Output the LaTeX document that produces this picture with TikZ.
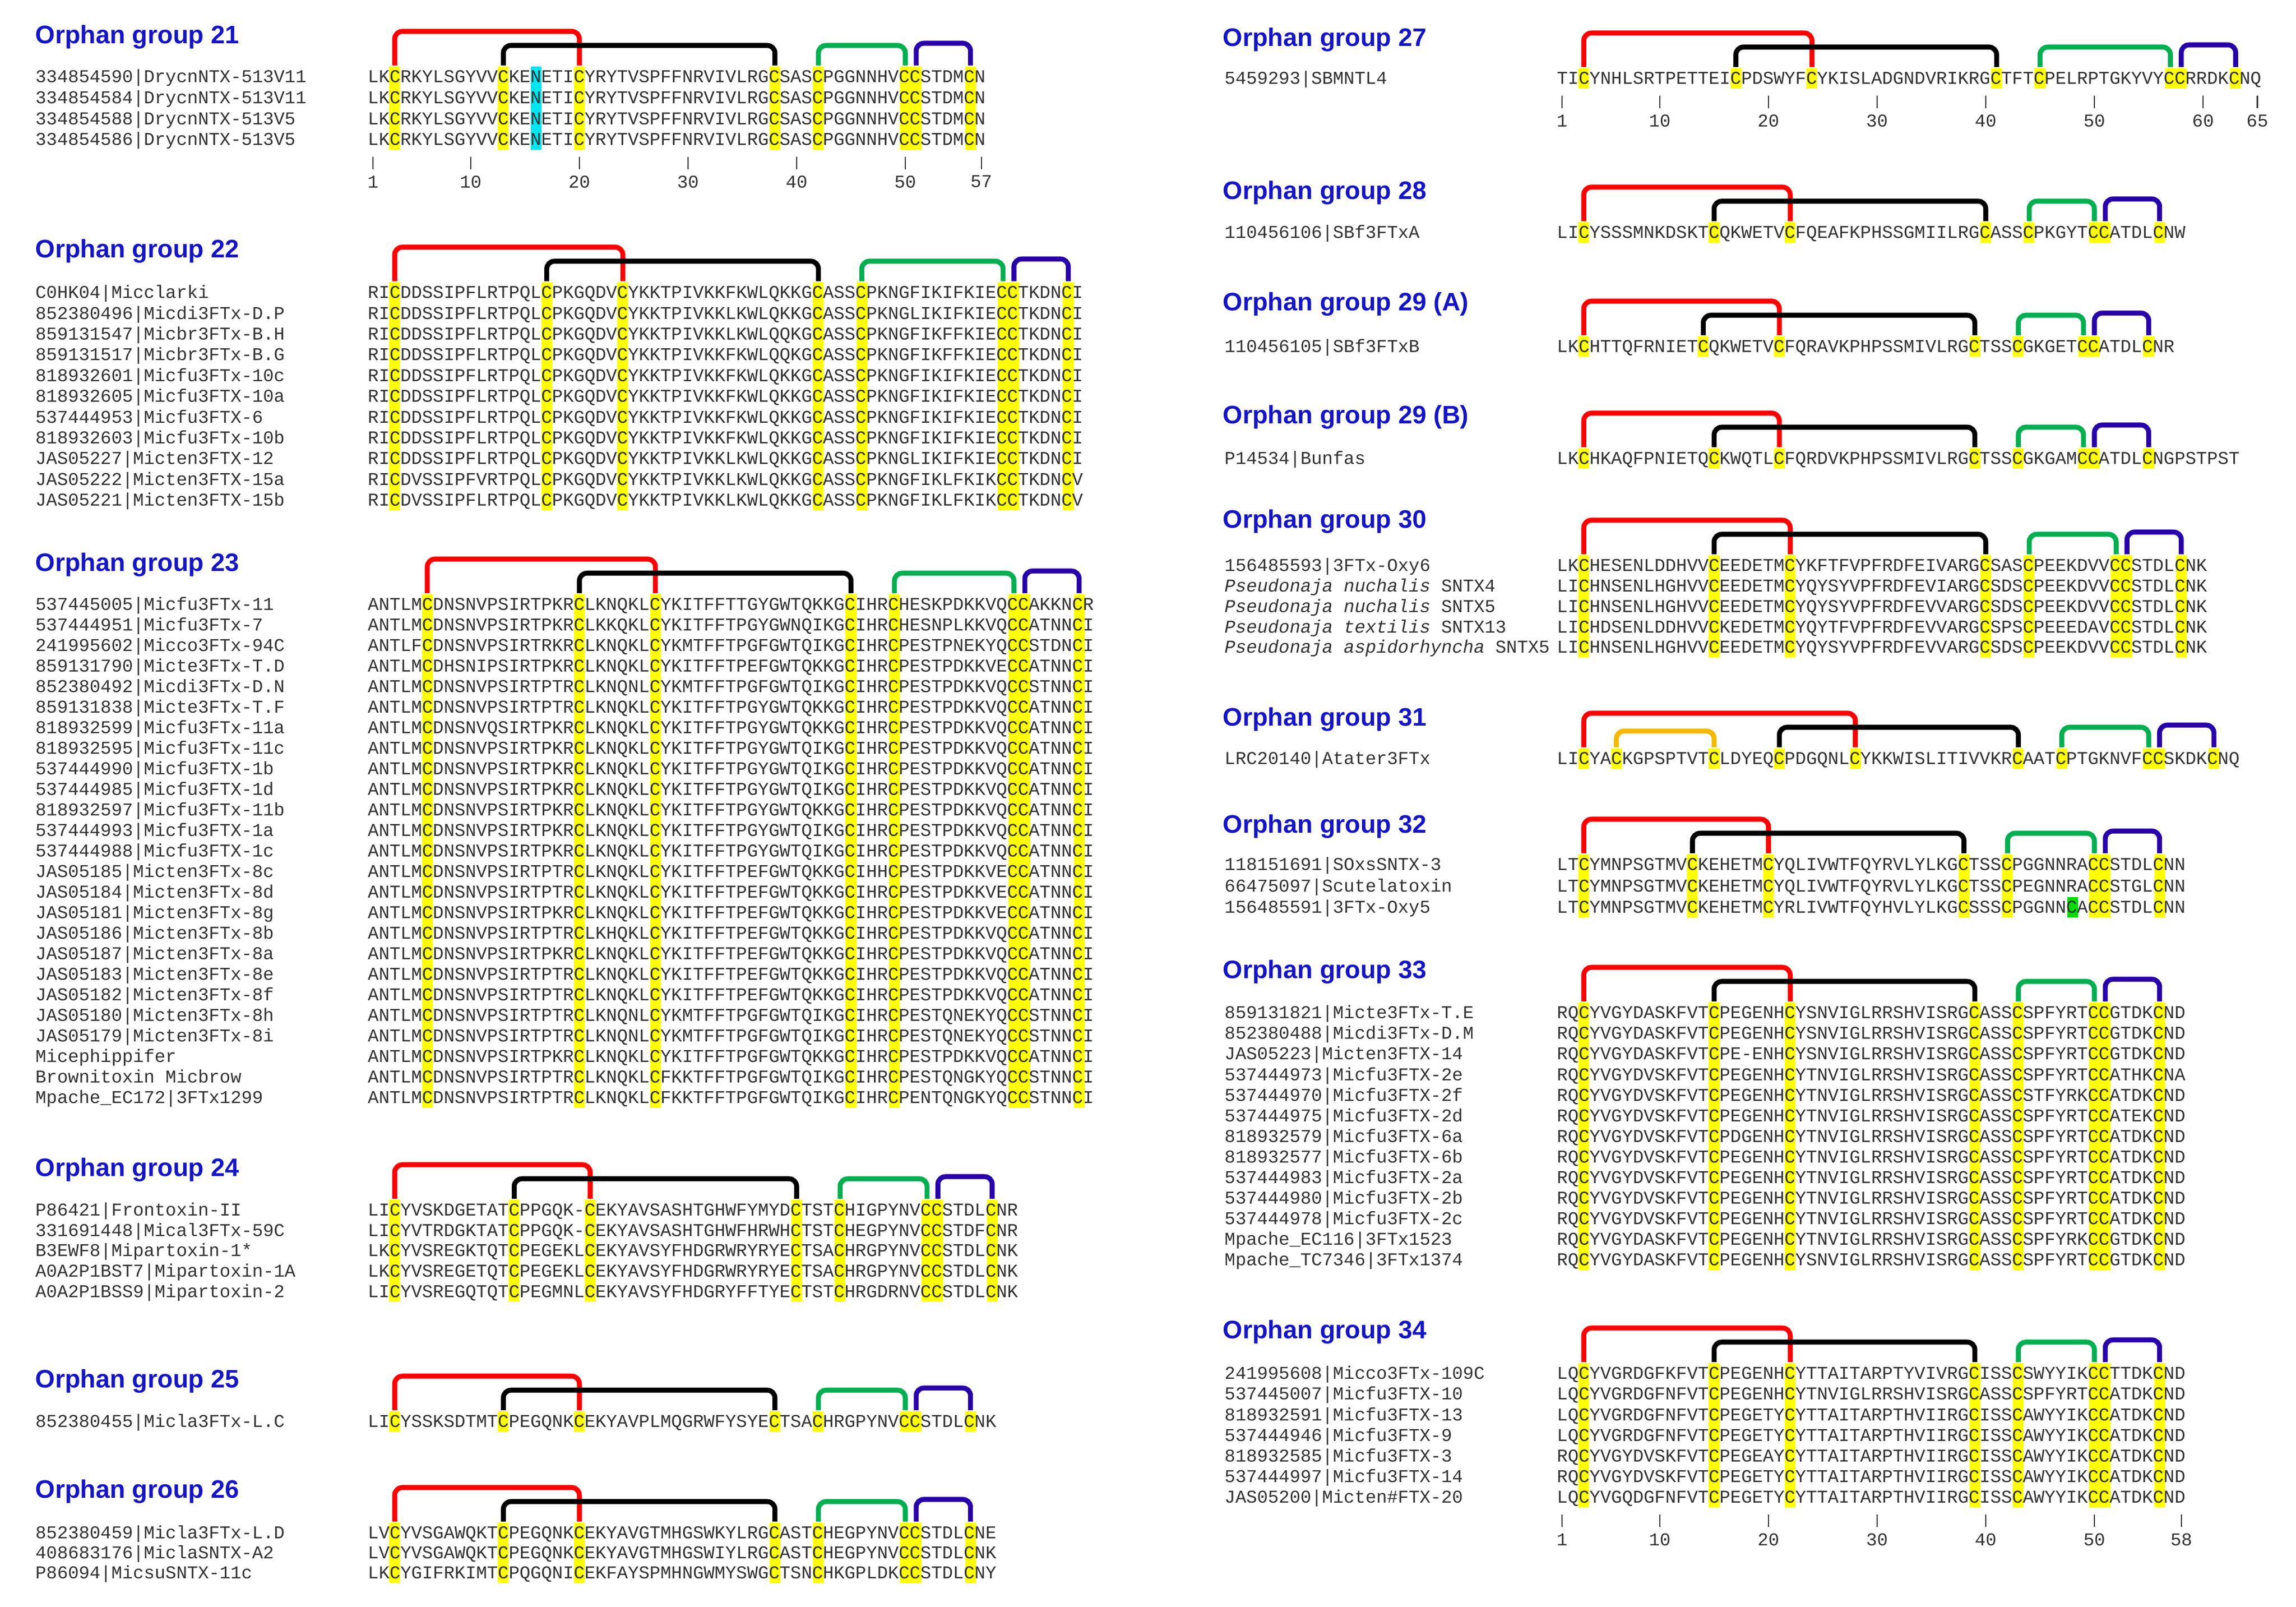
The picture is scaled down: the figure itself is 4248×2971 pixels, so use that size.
\documentclass[tikz,border=0pt]{standalone}
\usepackage{fontspec}
\setmainfont{Liberation Sans}
\setsansfont{Liberation Sans}
\setmonofont{Liberation Mono}
\definecolor{ttl}{RGB}{20,20,200}
\definecolor{bgreen}{RGB}{0,175,80}
\definecolor{bblue}{RGB}{40,0,170}
\definecolor{borange}{RGB}{245,185,0}
\definecolor{hyel}{RGB}{255,255,0}
\definecolor{hcyan}{RGB}{0,230,240}
\definecolor{hgreen}{RGB}{0,220,0}
\definecolor{seqc}{RGB}{50,50,50}
\def\cw{20.1}
\def\pitch{38.3}
\tikzset{
  seq/.style={anchor=west,inner sep=0pt,text height=5.5pt,text depth=0pt,font=\fontsize{9.5pt}{11pt}\ttfamily,text=seqc},
  lab/.style={seq},
  ttlstyle/.style={anchor=west,inner sep=0pt,text height=9.5pt,text depth=0pt,font=\fontsize{13.3pt}{15pt}\sffamily\bfseries,text=ttl},
  bk/.style={line width=2.6pt,rounded corners=4pt},
  tk/.style={line width=0.6pt,seqc},
  tkl/.style={inner sep=0pt,font=\fontsize{9.5pt}{11pt}\ttfamily,text=seqc}
}
\newcommand\hl[3][hyel]{\foreach \c in {#2}{\fill[#1] ({(\c-1)*\cw},-20) rectangle ({\c*\cw},{(#3-1)*\pitch+18});}}
\newcommand\hlone[3]{\fill[#1] ({(#2-1)*\cw},{(#3-1)*\pitch-20}) rectangle ({#2*\cw},{(#3-1)*\pitch+18});}
\newcommand\brk[4]{\draw[bk,#1] ({(#2-0.5)*\cw},-22) -- ({(#2-0.5)*\cw},-#4) -- ({(#3-0.5)*\cw},-#4) -- ({(#3-0.5)*\cw},-22);}
\newcommand\std[4]{\brk{red}{#1}{#2}{85}\brk{black}{#3}{#4}{59}}
\newcommand\cc[3]{\brk{bgreen}{#1}{#2}{59}\brk{bblue}{#3}{#3+0}{63}}
\newcommand\rows[2]{\foreach \lb/\sq [count=\i] in {#2}{\node[lab] (#1l\i) at (-615,{(\i-1)*\pitch}) {\lb}; \node[seq] (#1s\i) at (0,{(\i-1)*\pitch}) {\sq};}}
\newcommand\ticks[3]{\foreach \t in {#3}{\draw[tk] ({(\t-0.5)*\cw},{(#2-1)*\pitch+31}) -- ++(0,23); \node[tkl] (#1t\t) at ({(\t-0.5)*\cw},{(#2-1)*\pitch+77}) {\t};}}
\newcommand\bb[6]{\brk{red}{#1}{#2}{85}\brk{black}{#3}{#4}{59}\brk{bgreen}{#5}{#6}{59}}
\begin{document}
\begin{tikzpicture}[x=0.01cm,y=-0.01cm]
\useasboundingbox[fill=white] (0,0) rectangle (4248,2971);
% ---------- titles
\node[ttlstyle] (t21) at (65,64) {Orphan group 21};
\node[ttlstyle] (t22) at (65,460) {Orphan group 22};
\node[ttlstyle] (t23) at (65,1040) {Orphan group 23};
\node[ttlstyle] (t24) at (65,2159) {Orphan group 24};
\node[ttlstyle] (t25) at (65,2550) {Orphan group 25};
\node[ttlstyle] (t26) at (65,2754) {Orphan group 26};
\node[ttlstyle] (t27) at (2262,69) {Orphan group 27};
\node[ttlstyle] (t28) at (2262,352) {Orphan group 28};
\node[ttlstyle] (t29a) at (2262,558) {Orphan group 29 (A)};
\node[ttlstyle] (t29b) at (2262,767) {Orphan group 29 (B)};
\node[ttlstyle] (t30) at (2262,960) {Orphan group 30};
\node[ttlstyle] (t31) at (2262,1326) {Orphan group 31};
\node[ttlstyle] (t32) at (2262,1524) {Orphan group 32};
\node[ttlstyle] (t33) at (2262,1793) {Orphan group 33};
\node[ttlstyle] (t34) at (2262,2459) {Orphan group 34};
% ---------- 21
\def\pitch{38.7}
\begin{scope}[shift={(680,143)}]
\hl{3,13,20,38,42,50,51,56}{4}\hl[hcyan]{16}{4}
\bb{3}{20}{13}{38}{42}{50}\brk{bblue}{51}{56}{63}
\rows{a}{334854590|DrycnNTX-513V11/LKCRKYLSGYVVCKENETICYRYTVSPFFNRVIVLRGCSASCPGGNNHVCCSTDMCN,
334854584|DrycnNTX-513V11/LKCRKYLSGYVVCKENETICYRYTVSPFFNRVIVLRGCSASCPGGNNHVCCSTDMCN,
334854588|DrycnNTX-513V5/LKCRKYLSGYVVCKENETICYRYTVSPFFNRVIVLRGCSASCPGGNNHVCCSTDMCN,
334854586|DrycnNTX-513V5/LKCRKYLSGYVVCKENETICYRYTVSPFFNRVIVLRGCSASCPGGNNHVCCSTDMCN}
\ticks{a}{4}{1,10,20,30,40,50,57}
\end{scope}
% ---------- 22
\def\pitch{38.4}
\begin{scope}[shift={(680,542)}]
\hl{3,17,24,42,46,59,60,65}{11}
\bb{3}{24}{17}{42}{46}{59}\brk{bblue}{60}{65}{63}
\rows{b}{C0HK04|Micclarki/RICDDSSIPFLRTPQLCPKGQDVCYKKTPIVKKFKWLQKKGCASSCPKNGFIKIFKIECCTKDNCI,
852380496|Micdi3FTx-D.P/RICDDSSIPFLRTPQLCPKGQDVCYKKTPIVKKLKWLQKKGCASSCPKNGLIKIFKIECCTKDNCI,
859131547|Micbr3FTx-B.H/RICDDSSIPFLRTPQLCPKGQDVCYKKTPIVKKLKWLQQKGCASSCPKNGFIKFFKIECCTKDNCI,
859131517|Micbr3FTx-B.G/RICDDSSIPFLRTPQLCPKGQDVCYKKTPIVKKFKWLQQKGCASSCPKNGFIKFFKIECCTKDNCI,
818932601|Micfu3FTx-10c/RICDDSSIPFLRTPQLCPKGQDVCYKKTPIVKKFKWLQKKGCASSCPKNGFIKIFKIECCTKDNCI,
818932605|Micfu3FTX-10a/RICDDSSIPFLRTPQLCPKGQDVCYKKTPIVKKFKWLQKKGCASSCPKNGFIKIFKIECCTKDNCI,
537444953|Micfu3FTX-6/RICDDSSIPFLRTPQLCPKGQDVCYKKTPIVKKFKWLQKKGCASSCPKNGFIKIFKIECCTKDNCI,
818932603|Micfu3FTx-10b/RICDDSSIPFLRTPQLCPKGQDVCYKKTPIVKKFKWLQKKGCASSCPKNGFIKIFKIECCTKDNCI,
JAS05227|Micten3FTX-12/RICDDSSIPFLRTPQLCPKGQDVCYKKTPIVKKLKWLQKKGCASSCPKNGLIKIFKIECCTKDNCI,
JAS05222|Micten3FTX-15a/RICDVSSIPFVRTPQLCPKGQDVCYKKTPIVKKLKWLQKKGCASSCPKNGFIKLFKIKCCTKDNCV,
JAS05221|Micten3FTX-15b/RICDVSSIPFLRTPQLCPKGQDVCYKKTPIVKKLKWLQKKGCASSCPKNGFIKLFKIKCCTKDNCV}
\end{scope}
% ---------- 23
\def\pitch{38}
\begin{scope}[shift={(680,1119)}]
\hl{6,20,27,45,49,60,61,66}{25}
\bb{6}{27}{20}{45}{49}{60}\brk{bblue}{61}{66}{63}
\rows{c}{537445005|Micfu3FTx-11/ANTLMCDNSNVPSIRTPKRCLKNQKLCYKITFFTTGYGWTQKKGCIHRCHESKPDKKVQCCAKKNCR,
537444951|Micfu3FTx-7/ANTLMCDNSNVPSIRTPKRCLKKQKLCYKITFFTPGYGWNQIKGCIHRCHESNPLKKVQCCATNNCI,
241995602|Micco3FTx-94C/ANTLFCDNSNVPSIRTRKRCLKNQKLCYKMTFFTPGFGWTQIKGCIHRCPESTPNEKYQCCSTDNCI,
859131790|Micte3FTx-T.D/ANTLMCDHSNIPSIRTPKRCLKNQKLCYKITFFTPEFGWTQKKGCIHRCPESTPDKKVECCATNNCI,
852380492|Micdi3FTx-D.N/ANTLMCDNSNVPSIRTPTRCLKNQNLCYKMTFFTPGFGWTQIKGCIHRCPESTPDKKVQCCSTNNCI,
859131838|Micte3FTx-T.F/ANTLMCDNSNVPSIRTPTRCLKNQKLCYKITFFTPGYGWTQKKGCIHRCPESTPDKKVQCCATNNCI,
818932599|Micfu3FTx-11a/ANTLMCDNSNVQSIRTPKRCLKNQKLCYKITFFTPGYGWTQKKGCIHRCPESTPDKKVQCCATNNCI,
818932595|Micfu3FTx-11c/ANTLMCDNSNVPSIRTPKRCLKNQKLCYKITFFTPGYGWTQIKGCIHRCPESTPDKKVQCCATNNCI,
537444990|Micfu3FTX-1b/ANTLMCDNSNVPSIRTPKRCLKNQKLCYKITFFTPGYGWTQIKGCIHRCPESTPDKKVQCCATNNCI,
537444985|Micfu3FTX-1d/ANTLMCDNSNVPSIRTPKRCLKNQKLCYKITFFTPGYGWTQIKGCIHRCPESTPDKKVQCCATNNCI,
818932597|Micfu3FTx-11b/ANTLMCDNSNVPSIRTPKRCLKNQKLCYKITFFTPGYGWTQKKGCIHRCPESTPDKKVQCCATNNCI,
537444993|Micfu3FTX-1a/ANTLMCDNSNVPSIRTPKRCLKNQKLCYKITFFTPGYGWTQIKGCIHRCPESTPDKKVQCCATNNCI,
537444988|Micfu3FTX-1c/ANTLMCDNSNVPSIRTPKRCLKNQKLCYKITFFTPGYGWTQIKGCIHRCPESTPDKKVQCCATNNCI,
JAS05185|Micten3FTx-8c/ANTLMCDNSNVPSIRTPTRCLKNQKLCYKITFFTPEFGWTQKKGCIHHCPESTPDKKVECCATNNCI,
JAS05184|Micten3FTx-8d/ANTLMCDNSNVPSIRTPTRCLKNQKLCYKITFFTPEFGWTQKKGCIHRCPESTPDKKVECCATNNCI,
JAS05181|Micten3FTx-8g/ANTLMCDNSNVPSIRTPKRCLKNQKLCYKITFFTPEFGWTQKKGCIHRCPESTPDKKVECCATNNCI,
JAS05186|Micten3FTx-8b/ANTLMCDNSNVPSIRTPTRCLKHQKLCYKITFFTPEFGWTQKKGCIHRCPESTPDKKVQCCATNNCI,
JAS05187|Micten3FTx-8a/ANTLMCDNSNVPSIRTPKRCLKNQKLCYKITFFTPEFGWTQKKGCIHRCPESTPDKKVQCCATNNCI,
JAS05183|Micten3FTx-8e/ANTLMCDNSNVPSIRTPTRCLKNQKLCYKITFFTPEFGWTQKKGCIHRCPESTPDKKVQCCATNNCI,
JAS05182|Micten3FTx-8f/ANTLMCDNSNVPSIRTPTRCLKNQKLCYKITFFTPEFGWTQKKGCIHRCPESTPDKKVQCCATNNCI,
JAS05180|Micten3FTx-8h/ANTLMCDNSNVPSIRTPTRCLKNQNLCYKMTFFTPGFGWTQIKGCIHRCPESTQNEKYQCCSTNNCI,
JAS05179|Micten3FTx-8i/ANTLMCDNSNVPSIRTPTRCLKNQNLCYKMTFFTPGFGWTQIKGCIHRCPESTQNEKYQCCSTNNCI,
Micephippifer/ANTLMCDNSNVPSIRTPKRCLKNQKLCYKITFFTPGFGWTQKKGCIHRCPESTPDKKVQCCATNNCI,
Brownitoxin Micbrow/ANTLMCDNSNVPSIRTPTRCLKNQKLCFKKTFFTPGFGWTQIKGCIHRCPESTQNGKYQCCSTNNCI,
Mpache\_EC172|3FTx1299/ANTLMCDNSNVPSIRTPTRCLKNQKLCFKKTFFTPGFGWTQIKGCIHRCPENTQNGKYQCCSTNNCI}
\end{scope}
% ---------- 24
\def\pitch{37.6}
\begin{scope}[shift={(680,2239)}]
\hl{3,14,21,40,44,52,53,58}{5}
\bb{3}{21}{14}{40}{44}{52}\brk{bblue}{53}{58}{63}
\rows{d}{P86421|Frontoxin-II/LICYVSKDGETATCPPGQK-CEKYAVSASHTGHWFYMYDCTSTCHIGPYNVCCSTDLCNR,
331691448|Mical3FTx-59C/LICYVTRDGKTATCPPGQK-CEKYAVSASHTGHWFHRWHCTSTCHEGPYNVCCSTDFCNR,
B3EWF8|Mipartoxin-1*/LKCYVSREGKTQTCPEGEKLCEKYAVSYFHDGRWRYRYECTSACHRGPYNVCCSTDLCNK,
A0A2P1BST7|Mipartoxin-1A/LKCYVSREGETQTCPEGEKLCEKYAVSYFHDGRWRYRYECTSACHRGPYNVCCSTDLCNK,
A0A2P1BSS9|Mipartoxin-2/LICYVSREGQTQTCPEGMNLCEKYAVSYFHDGRYFFTYECTSTCHRGDRNVCCSTDLCNK}
\end{scope}
% ---------- 25
\begin{scope}[shift={(680,2630)}]
\hl{3,13,20,38,42,50,51,56}{1}
\bb{3}{20}{13}{38}{42}{50}\brk{bblue}{51}{56}{63}
\rows{e}{852380455|Micla3FTx-L.C/LICYSSKSDTMTCPEGQNKCEKYAVPLMQGRWFYSYECTSACHRGPYNVCCSTDLCNK}
\end{scope}
% ---------- 26
\def\pitch{37}
\begin{scope}[shift={(680,2836)}]
\hl{3,13,20,38,42,50,51,56}{3}
\bb{3}{20}{13}{38}{42}{50}\brk{bblue}{51}{56}{63}
\rows{f}{852380459|Micla3FTx-L.D/LVCYVSGAWQKTCPEGQNKCEKYAVGTMHGSWKYLRGCASTCHEGPYNVCCSTDLCNE,
408683176|MiclaSNTX-A2/LVCYVSGAWQKTCPEGQNKCEKYAVGTMHGSWIYLRGCASTCHEGPYNVCCSTDLCNK,
P86094|MicsuSNTX-11c/LKCYGIFRKIMTCPQGQNICEKFAYSPMHNGWMYSWGCTSNCHKGPLDKCCSTDLCNY}
\end{scope}
% ---------- 27
\def\pitch{38}
\begin{scope}[shift={(2880,146)}]
\hl{3,17,24,41,45,57,58,63}{1}
\bb{3}{24}{17}{41}{45}{57}\brk{bblue}{58}{63}{63}
\rows{g}{5459293|SBMNTL4/TICYNHLSRTPETTEICPDSWYFCYKISLADGNDVRIKRGCTFTCPELRPTGKYVYCCRRDKCNQ}
\ticks{g}{1}{1,10,20,30,40,50,60,65}
\end{scope}
% ---------- 28
\begin{scope}[shift={(2880,431)}]
\hl{3,15,22,40,44,50,51,56}{1}
\bb{3}{22}{15}{40}{44}{50}\brk{bblue}{51}{56}{63}
\rows{h}{110456106|SBf3FTxA/LICYSSSMNKDSKTCQKWETVCFQEAFKPHSSGMIILRGCASSCPKGYTCCATDLCNW}
\end{scope}
% ---------- 29A
\begin{scope}[shift={(2880,642)}]
\hl{3,14,21,39,43,49,50,55}{1}
\bb{3}{21}{14}{39}{43}{49}\brk{bblue}{50}{55}{63}
\rows{i}{110456105|SBf3FTxB/LKCHTTQFRNIETCQKWETVCFQRAVKPHPSSMIVLRGCTSSCGKGETCCATDLCNR}
\end{scope}
% ---------- 29B
\begin{scope}[shift={(2880,849)}]
\hl{3,15,21,39,43,49,50,55}{1}
\bb{3}{21}{15}{39}{43}{49}\brk{bblue}{50}{55}{63}
\rows{j}{P14534|Bunfas/LKCHKAQFPNIETQCKWQTLCFQRDVKPHPSSMIVLRGCTSSCGKGAMCCATDLCNGPSTPST}
\end{scope}
% ---------- 30
\def\pitch{37.8}
\begin{scope}[shift={(2880,1047)}]
\hl{3,15,22,40,44,52,53,58}{5}
\bb{3}{22}{15}{40}{44}{52}\brk{bblue}{53}{58}{63}
\rows{k}{156485593|3FTx-Oxy6/LKCHESENLDDHVVCEEDETMCYKFTFVPFRDFEIVARGCSASCPEEKDVVCCSTDLCNK,
\textit{Pseudonaja nuchalis} SNTX4/LICHNSENLHGHVVCEEDETMCYQYSYVPFRDFEVIARGCSDSCPEEKDVVCCSTDLCNK,
\textit{Pseudonaja nuchalis} SNTX5/LICHNSENLHGHVVCEEDETMCYQYSYVPFRDFEVVARGCSDSCPEEKDVVCCSTDLCNK,
\textit{Pseudonaja textilis} SNTX13/LICHDSENLDDHVVCKEDETMCYQYTFVPFRDFEVVARGCSPSCPEEEDAVCCSTDLCNK,
\textit{Pseudonaja aspidorhyncha} SNTX5/LICHNSENLHGHVVCEEDETMCYQYSYVPFRDFEVVARGCSDSCPEEKDVVCCSTDLCNK}
\end{scope}
% ---------- 31
\begin{scope}[shift={(2880,1404)}]
\hl{3,6,15,21,28,43,47,55,56,61}{1}
\brk{red}{3}{28}{85}\brk{borange}{6}{15}{52}\brk{black}{21}{43}{59}\brk{bgreen}{47}{55}{59}\brk{bblue}{56}{61}{63}
\rows{m}{LRC20140|Atater3FTx/LICYACKGPSPTVTCLDYEQCPDGQNLCYKKWISLITIVVKRCAATCPTGKNVFCCSKDKCNQ}
\end{scope}
% ---------- 32
\def\pitch{39.5}
\begin{scope}[shift={(2880,1600)}]
\hl{3,13,20,38,42,50,51,56}{3}\hlone{hgreen}{48}{3}
\bb{3}{20}{13}{38}{42}{50}\brk{bblue}{51}{56}{63}
\rows{n}{118151691|SOxsSNTX-3/LTCYMNPSGTMVCKEHETMCYQLIVWTFQYRVLYLKGCTSSCPGGNNRACCSTDLCNN,
66475097|Scutelatoxin/LTCYMNPSGTMVCKEHETMCYQLIVWTFQYRVLYLKGCTSSCPEGNNRACCSTGLCNN,
156485591|3FTx-Oxy5/LTCYMNPSGTMVCKEHETMCYRLIVWTFQYHVLYLKGCSSSCPGGNNCACCSTDLCNN}
\end{scope}
% ---------- 33
\def\pitch{38.1}
\begin{scope}[shift={(2880,1874)}]
\hl{3,15,22,39,43,50,51,56}{13}
\bb{3}{22}{15}{39}{43}{50}\brk{bblue}{51}{56}{63}
\rows{p}{859131821|Micte3FTx-T.E/RQCYVGYDASKFVTCPEGENHCYSNVIGLRRSHVISRGCASSCSPFYRTCCGTDKCND,
852380488|Micdi3FTx-D.M/RQCYVGYDASKFVTCPEGENHCYSNVIGLRRSHVISRGCASSCSPFYRTCCGTDKCND,
JAS05223|Micten3FTX-14/RQCYVGYDASKFVTCPE-ENHCYSNVIGLRRSHVISRGCASSCSPFYRTCCGTDKCND,
537444973|Micfu3FTX-2e/RQCYVGYDVSKFVTCPEGENHCYTNVIGLRRSHVISRGCASSCSPFYRTCCATHKCNA,
537444970|Micfu3FTX-2f/RQCYVGYDVSKFVTCPEGENHCYTNVIGLRRSHVISRGCASSCSTFYRKCCATDKCND,
537444975|Micfu3FTX-2d/RQCYVGYDVSKFVTCPEGENHCYTNVIGLRRSHVISRGCASSCSPFYRTCCATEKCND,
818932579|Micfu3FTX-6a/RQCYVGYDVSKFVTCPDGENHCYTNVIGLRRSHVISRGCASSCSPFYRTCCATDKCND,
818932577|Micfu3FTX-6b/RQCYVGYDVSKFVTCPEGENHCYTNVIGLRRSHVISRGCASSCSPFYRTCCATDKCND,
537444983|Micfu3FTX-2a/RQCYVGYDVSKFVTCPEGENHCYTNVIGLRRSHVISRGCASSCSPFYRTCCATDKCND,
537444980|Micfu3FTX-2b/RQCYVGYDVSKFVTCPEGENHCYTNVIGLRRSHVISRGCASSCSPFYRTCCATDKCND,
537444978|Micfu3FTX-2c/RQCYVGYDVSKFVTCPEGENHCYTNVIGLRRSHVISRGCASSCSPFYRTCCATDKCND,
Mpache\_EC116|3FTx1523/RQCYVGYDASKFVTCPEGENHCYTNVIGLRRSHVISRGCASSCSPFYRKCCGTDKCND,
Mpache\_TC7346|3FTx1374/RQCYVGYDASKFVTCPEGENHCYSNVIGLRRSHVISRGCASSCSPFYRTCCGTDKCND}
\end{scope}
% ---------- 34
\def\pitch{38.2}
\begin{scope}[shift={(2880,2541)}]
\hl{3,15,22,39,43,50,51,56}{7}
\bb{3}{22}{15}{39}{43}{50}\brk{bblue}{51}{56}{63}
\rows{q}{241995608|Micco3FTx-109C/LQCYVGRDGFKFVTCPEGENHCYTTAITARPTYVIVRGCISSCSWYYIKCCTTDKCND,
537445007|Micfu3FTX-10/LQCYVGRDGFNFVTCPEGENHCYTNVIGLRRSHVISRGCASSCSPFYRTCCATDKCND,
818932591|Micfu3FTX-13/LQCYVGRDGFNFVTCPEGETYCYTTAITARPTHVIIRGCISSCAWYYIKCCATDKCND,
537444946|Micfu3FTX-9/LQCYVGRDGFNFVTCPEGETYCYTTAITARPTHVIIRGCISSCAWYYIKCCATDKCND,
818932585|Micfu3FTX-3/RQCYVGYDVSKFVTCPEGEAYCYTTAITARPTHVIIRGCISSCAWYYIKCCATDKCND,
537444997|Micfu3FTX-14/RQCYVGYDVSKFVTCPEGETYCYTTAITARPTHVIIRGCISSCAWYYIKCCATDKCND,
JAS05200|Micten\#FTX-20/LQCYVGQDGFNFVTCPEGETYCYTTAITARPTHVIIRGCISSCAWYYIKCCATDKCND}
\ticks{q}{7}{1,10,20,30,40,50,58}
\end{scope}
\end{tikzpicture}
\end{document}
